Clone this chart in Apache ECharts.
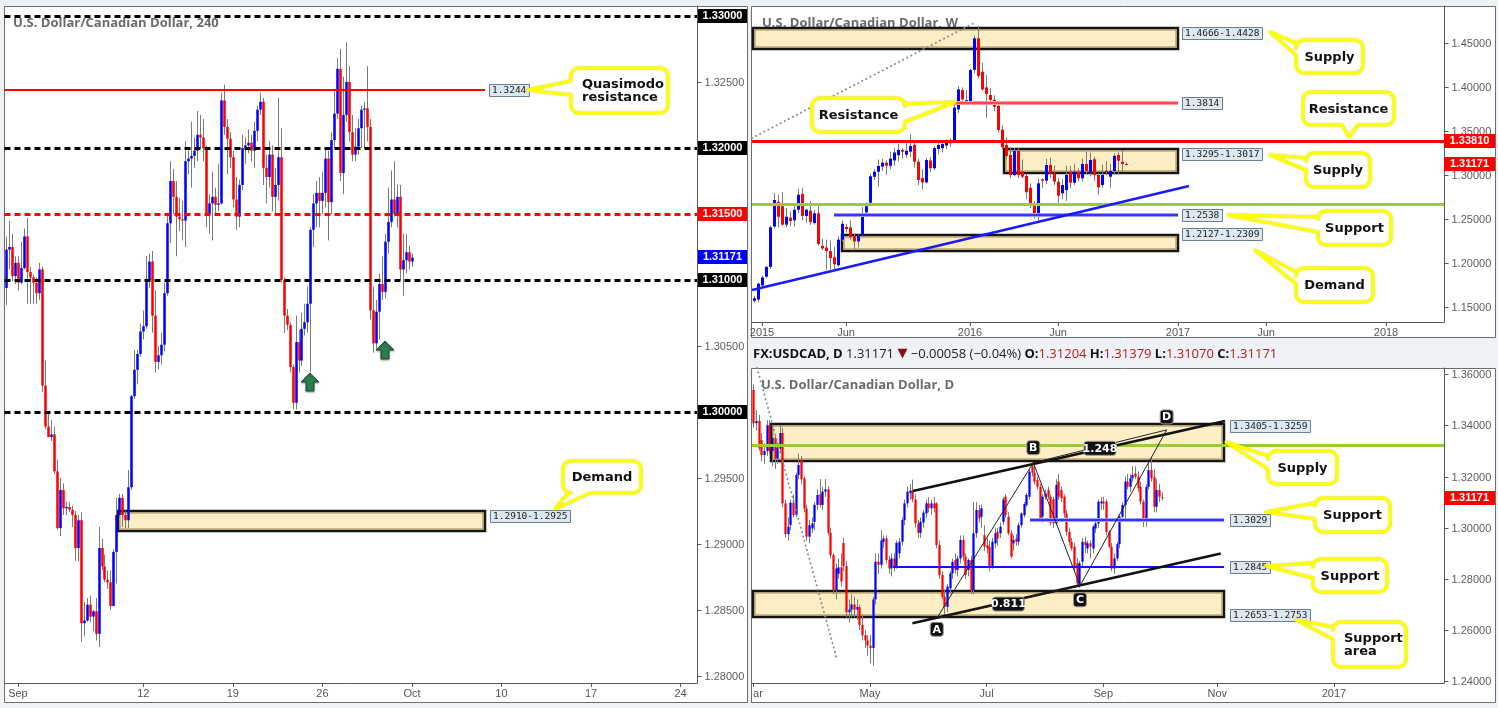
<!DOCTYPE html>
<html><head><meta charset="utf-8">
<script src="https://cdn.jsdelivr.net/npm/echarts@6/dist/echarts.min.js"></script>
<style>html,body{margin:0;padding:0;background:#eef1f5;}#c{width:1498px;height:708px;}</style>
</head><body><div id="c"></div>
<script>
// ================= DATA =================
// ---- 4H panel (Sep 1 - Oct 3, 2016) : [open, high, low, close]
const h4TickIdx = [4, 46, 76, 106, 136, 166, 196, 226];
const h4TickLab = ['Sep', '12', '19', '26', 'Oct', '10', '17', '24'];
const h4Ohlc = [
[1.3094,1.3133,1.3081,1.3123],[1.3123,1.3145,1.3108,1.3125],[1.3125,1.3135,1.3099,1.3103],[1.3103,1.3118,1.3097,1.3113],
[1.3113,1.3118,1.3092,1.3098],[1.3098,1.3129,1.3097,1.3109],[1.3109,1.3139,1.3108,1.3133],[1.3133,1.3147,1.3082,1.3106],
[1.3106,1.3110,1.3082,1.3102],[1.3102,1.3104,1.3082,1.3098],[1.3098,1.3102,1.3082,1.3090],[1.3090,1.3113,1.3085,1.3108],
[1.3108,1.3110,1.3015,1.3020],[1.3020,1.3039,1.2987,1.2989],[1.2989,1.3000,1.2981,1.2981],[1.2981,1.2994,1.2978,1.2983],
[1.2983,1.2989,1.2953,1.2955],[1.2955,1.2964,1.2911,1.2912],[1.2912,1.2950,1.2906,1.2941],[1.2941,1.2946,1.2922,1.2927],
[1.2927,1.2932,1.2922,1.2928],[1.2928,1.2932,1.2924,1.2926],[1.2926,1.2929,1.2913,1.2922],[1.2922,1.2925,1.2887,1.2897],
[1.2897,1.2922,1.2887,1.2918],[1.2918,1.2924,1.2826,1.2840],[1.2840,1.2856,1.2830,1.2842],[1.2842,1.2859,1.2841,1.2854],
[1.2854,1.2861,1.2841,1.2845],[1.2845,1.2850,1.2834,1.2849],[1.2849,1.2859,1.2827,1.2832],[1.2832,1.2913,1.2822,1.2897],
[1.2897,1.2904,1.2880,1.2883],[1.2883,1.2892,1.2871,1.2873],[1.2873,1.2880,1.2866,1.2871],[1.2871,1.2880,1.2850,1.2853],
[1.2853,1.2896,1.2853,1.2894],[1.2894,1.2935,1.2870,1.2922],[1.2922,1.2938,1.2920,1.2935],[1.2935,1.2938,1.2913,1.2922],
[1.2922,1.2925,1.2912,1.2918],[1.2918,1.2956,1.2912,1.2943],[1.2943,1.3013,1.2941,1.3012],[1.3012,1.3047,1.3010,1.3032],
[1.3032,1.3047,1.3021,1.3044],[1.3044,1.3067,1.3042,1.3061],[1.3061,1.3077,1.3055,1.3065],[1.3065,1.3118,1.3063,1.3100],
[1.3100,1.3120,1.3094,1.3114],[1.3114,1.3122,1.3060,1.3073],[1.3073,1.3092,1.3030,1.3038],[1.3038,1.3050,1.3032,1.3043],
[1.3043,1.3060,1.3036,1.3051],[1.3051,1.3098,1.3046,1.3090],[1.3090,1.3150,1.3088,1.3143],[1.3143,1.3190,1.3128,1.3175],
[1.3175,1.3184,1.3150,1.3163],[1.3163,1.3175,1.3118,1.3148],[1.3148,1.3162,1.3137,1.3146],[1.3146,1.3160,1.3130,1.3145],
[1.3145,1.3205,1.3125,1.3190],[1.3190,1.3200,1.3180,1.3192],[1.3192,1.3220,1.3170,1.3194],[1.3194,1.3208,1.3185,1.3198],
[1.3198,1.3228,1.3190,1.3210],[1.3210,1.3225,1.3200,1.3208],[1.3208,1.3222,1.3190,1.3200],[1.3200,1.3202,1.3140,1.3150],
[1.3150,1.3165,1.3135,1.3158],[1.3158,1.3182,1.3130,1.3163],[1.3163,1.3170,1.3150,1.3157],[1.3157,1.3188,1.3152,1.3158],
[1.3158,1.3242,1.3157,1.3236],[1.3236,1.3248,1.3210,1.3216],[1.3216,1.3222,1.3180,1.3207],[1.3207,1.3212,1.3185,1.3193],
[1.3193,1.3198,1.3155,1.3161],[1.3161,1.3178,1.3138,1.3148],[1.3148,1.3176,1.3140,1.3172],[1.3172,1.3210,1.3168,1.3200],
[1.3200,1.3208,1.3188,1.3202],[1.3202,1.3214,1.3196,1.3204],[1.3204,1.3210,1.3190,1.3198],[1.3198,1.3220,1.3185,1.3213],
[1.3213,1.3232,1.3205,1.3229],[1.3229,1.3242,1.3225,1.3235],[1.3235,1.3238,1.3172,1.3185],[1.3185,1.3195,1.3158,1.3178],
[1.3178,1.3205,1.3170,1.3195],[1.3195,1.3202,1.3152,1.3163],[1.3163,1.3185,1.3150,1.3172],[1.3172,1.3238,1.3160,1.3193],
[1.3193,1.3215,1.3098,1.3100],[1.3100,1.3102,1.3060,1.3073],[1.3073,1.3078,1.3062,1.3066],[1.3066,1.3068,1.3030,1.3034],
[1.3034,1.3036,1.3002,1.3007],[1.3007,1.3073,1.3002,1.3053],[1.3053,1.3062,1.3030,1.3039],[1.3039,1.3075,1.3035,1.3063],
[1.3063,1.3082,1.3058,1.3068],[1.3068,1.3095,1.3060,1.3082],[1.3082,1.3140,1.3030,1.3138],[1.3138,1.3165,1.3125,1.3158],
[1.3158,1.3175,1.3140,1.3166],[1.3166,1.3178,1.3140,1.3160],[1.3160,1.3182,1.3150,1.3166],[1.3166,1.3200,1.3155,1.3192],
[1.3192,1.3198,1.3130,1.3159],[1.3159,1.3212,1.3150,1.3206],[1.3206,1.3245,1.3200,1.3226],[1.3226,1.3268,1.3222,1.3260],
[1.3260,1.3275,1.3175,1.3181],[1.3181,1.3254,1.3165,1.3225],[1.3225,1.3280,1.3220,1.3250],[1.3250,1.3262,1.3205,1.3212],
[1.3212,1.3225,1.3190,1.3195],[1.3195,1.3215,1.3190,1.3201],[1.3201,1.3222,1.3195,1.3215],[1.3215,1.3232,1.3200,1.3229],
[1.3229,1.3235,1.3200,1.3230],[1.3230,1.3262,1.3205,1.3216],[1.3216,1.3222,1.3070,1.3077],[1.3077,1.3095,1.3045,1.3052],
[1.3052,1.3085,1.3048,1.3076],[1.3076,1.3105,1.3055,1.3097],[1.3097,1.3118,1.3085,1.3091],[1.3091,1.3135,1.3086,1.3129],
[1.3129,1.3170,1.3120,1.3144],[1.3144,1.3183,1.3140,1.3161],[1.3161,1.3190,1.3148,1.3150],[1.3150,1.3172,1.3140,1.3163],
[1.3163,1.3172,1.3100,1.3108],[1.3108,1.3135,1.3088,1.3115],[1.3115,1.3135,1.3105,1.3121],[1.3121,1.3126,1.3108,1.3114],
[1.3114,1.3120,1.3110,1.3117]
];
const h4BlackLevels = [1.33, 1.32, 1.31, 1.30];
const h4RedLevel = 1.315;
const h4Quasimodo = 1.3244;
const h4Demand = [1.2910, 1.2925];
const h4AxisTicks = [1.325, 1.305, 1.295, 1.29, 1.285, 1.28];
const lastClose = 1.31171;
const h4Arrows = [[102, 1.3030], [127, 1.30545]];

// ---- Weekly panel (Dec 2014 - Oct 2016)
const wTickIdx = [2, 23, 54, 76, 106, 128, 158];
const wTickLab = ['2015', 'Jun', '2016', 'Jun', '2017', 'Jun', '2018'];
const wOhlc = [
[1.1566,1.1620,1.1548,1.1594],[1.1580,1.1772,1.1548,1.1760],[1.1740,1.1848,1.1722,1.1830],[1.1840,1.1960,1.1820,1.1950],
[1.1950,1.2420,1.1925,1.2400],[1.2410,1.2790,1.2390,1.2710],[1.2690,1.2770,1.2400,1.2520],[1.2640,1.2800,1.2420,1.2430],
[1.2430,1.2620,1.2400,1.2520],[1.2510,1.2580,1.2410,1.2470],[1.2480,1.2650,1.2410,1.2600],[1.2600,1.2840,1.2560,1.2770],
[1.2780,1.2850,1.2480,1.2530],[1.2530,1.2610,1.2450,1.2600],[1.2590,1.2700,1.2430,1.2460],[1.2450,1.2600,1.2430,1.2560],
[1.2560,1.2650,1.2190,1.2210],[1.2190,1.2270,1.2140,1.2160],[1.2170,1.2260,1.1920,1.2130],[1.2130,1.2250,1.1920,1.2050],
[1.2060,1.2180,1.1920,1.1980],[1.1970,1.2300,1.1950,1.2260],[1.2260,1.2480,1.2240,1.2440],[1.2405,1.2440,1.2340,1.2380],
[1.2400,1.2480,1.2260,1.2290],[1.2300,1.2330,1.2140,1.2240],[1.2240,1.2320,1.2170,1.2300],[1.2310,1.2630,1.2290,1.2560],
[1.2570,1.2680,1.2550,1.2640],[1.2680,1.3010,1.2670,1.2980],[1.2975,1.3060,1.2940,1.3032],[1.3032,1.3170,1.2860,1.3097],
[1.3090,1.3180,1.3040,1.3135],[1.3135,1.3160,1.3000,1.3100],[1.3100,1.3260,1.3060,1.3180],[1.3160,1.3300,1.3100,1.3250],
[1.3220,1.3350,1.3150,1.3280],[1.3280,1.3300,1.3180,1.3260],[1.3225,1.3360,1.3190,1.3270],[1.3260,1.3460,1.3200,1.3324],
[1.3336,1.3370,1.3080,1.3146],[1.3146,1.3180,1.2880,1.2938],[1.2960,1.3060,1.2830,1.2910],[1.2910,1.3190,1.2900,1.3165],
[1.3160,1.3200,1.3030,1.3071],[1.3071,1.3320,1.3050,1.3301],[1.3290,1.3370,1.3230,1.3336],[1.3300,1.3390,1.3250,1.3347],
[1.3330,1.3400,1.3290,1.3373],[1.3370,1.3410,1.3310,1.3355],[1.3373,1.3790,1.3360,1.3760],[1.3740,1.4005,1.3700,1.3968],
[1.3960,1.3990,1.3840,1.3853],[1.3825,1.3960,1.3800,1.3845],[1.3820,1.4200,1.3800,1.4188],[1.4190,1.4580,1.4150,1.4548],
[1.4548,1.4690,1.4090,1.4120],[1.4169,1.4270,1.3950,1.3968],[1.3990,1.4130,1.3646,1.3915],[1.3904,1.3980,1.3800,1.3847],
[1.3850,1.3900,1.3720,1.3771],[1.3780,1.3800,1.3480,1.3506],[1.3510,1.3560,1.3280,1.3309],[1.3336,1.3420,1.3180,1.3211],
[1.3222,1.3310,1.2960,1.2995],[1.2995,1.3300,1.2980,1.3267],[1.3267,1.3300,1.2960,1.2995],[1.3032,1.3170,1.2960,1.2975],
[1.2983,1.3010,1.2720,1.2800],[1.2850,1.2900,1.2620,1.2654],[1.2654,1.2700,1.2500,1.2529],[1.2529,1.2950,1.2461,1.2900],
[1.2946,1.2960,1.2850,1.2930],[1.2930,1.3180,1.2890,1.3108],[1.3108,1.3190,1.2960,1.3014],[1.3014,1.3100,1.2880,1.2919],
[1.2919,1.2960,1.2650,1.2760],[1.2787,1.2950,1.2720,1.2881],[1.2824,1.3100,1.2700,1.2995],[1.3032,1.3100,1.2850,1.2907],
[1.2907,1.3120,1.2880,1.3032],[1.3032,1.3070,1.2920,1.2957],[1.2957,1.3180,1.2920,1.3120],[1.3120,1.3260,1.3000,1.3040],
[1.3021,1.3250,1.2980,1.3165],[1.3173,1.3200,1.2930,1.2995],[1.2995,1.3020,1.2770,1.2855],[1.2881,1.3110,1.2850,1.2995],
[1.3040,1.3150,1.2990,1.3030],[1.2975,1.3120,1.2850,1.3040],[1.3040,1.3240,1.3000,1.3211],[1.3222,1.3250,1.3000,1.3157],
[1.3146,1.3275,1.3040,1.3120],[1.3120,1.3138,1.3107,1.3117]
];
const wSupplyTop = [1.4428, 1.4666];
const wSupplyMid = [1.3017, 1.3295];
const wDemand = [1.2127, 1.2309];
const wRes1 = 1.3814;
const wRes2 = 1.3381;
const wGreen = 1.2665;
const wSupport = 1.2538;
const wTrend = [[-0.5, 1.1688], [108.75, 1.2870]];
const wDotted = [[-0.5, 1.3415], [55.5, 1.4733]];
const wAxisTicks = [1.45, 1.40, 1.35, 1.30, 1.25, 1.20, 1.15];

// ---- Daily panel (Mar 1 - Oct 3, 2016)
const dTickIdx = [0, 44, 88, 132, 175, 219];
const dTickLab = ['Mar', 'May', 'Jul', 'Sep', 'Nov', '2017'];
const dOhlc = [
[1.3538,1.3560,1.3390,1.3408],[1.3408,1.3460,1.3380,1.3417],[1.3417,1.3440,1.3300,1.3310],[1.3342,1.3370,1.3260,1.3284],
[1.3284,1.3330,1.3250,1.3300],[1.3300,1.3420,1.3280,1.3400],[1.3400,1.3420,1.3290,1.3300],[1.3300,1.3400,1.3240,1.3350],
[1.3350,1.3360,1.3230,1.3270],[1.3270,1.3320,1.3250,1.3310],[1.3310,1.3400,1.3290,1.3370],[1.3370,1.3390,1.3080,1.3095],
[1.3095,1.3110,1.2960,1.2975],[1.2975,1.3040,1.2950,1.3004],[1.3010,1.3110,1.2990,1.3098],[1.3098,1.3130,1.3040,1.3050],
[1.3050,1.3215,1.3040,1.3206],[1.3206,1.3290,1.3190,1.3245],[1.3264,1.3280,1.3170,1.3189],[1.3193,1.3200,1.3060,1.3075],
[1.3075,1.3090,1.2950,1.2965],[1.2965,1.3030,1.2940,1.3010],[1.2997,1.3040,1.2980,1.3017],[1.3023,1.3100,1.2990,1.3089],
[1.3089,1.3150,1.3070,1.3128],[1.3131,1.3190,1.3080,1.3089],[1.3089,1.3160,1.3070,1.3141],[1.3141,1.3190,1.3120,1.3150],
[1.3150,1.3160,1.2970,1.2980],[1.2980,1.3000,1.2880,1.2893],[1.2893,1.2900,1.2740,1.2757],[1.2757,1.2860,1.2720,1.2841],
[1.2820,1.2880,1.2800,1.2845],[1.2845,1.2900,1.2770,1.2790],[1.2940,1.2960,1.2830,1.2850],[1.2850,1.2870,1.2650,1.2670],
[1.2670,1.2720,1.2630,1.2680],[1.2680,1.2740,1.2650,1.2700],[1.2700,1.2730,1.2650,1.2680],[1.2680,1.2720,1.2640,1.2690],
[1.2690,1.2700,1.2600,1.2620],[1.2620,1.2660,1.2560,1.2580],[1.2580,1.2600,1.2530,1.2560],[1.2560,1.2580,1.2500,1.2540],
[1.2540,1.2580,1.2470,1.2530],[1.2530,1.2730,1.2461,1.2720],[1.2720,1.2900,1.2700,1.2867],[1.2867,1.2900,1.2820,1.2855],
[1.2855,1.2990,1.2840,1.2950],[1.2945,1.2970,1.2920,1.2958],[1.2958,1.2970,1.2860,1.2874],[1.2874,1.2890,1.2820,1.2841],
[1.2841,1.2900,1.2810,1.2880],[1.2880,1.2900,1.2830,1.2845],[1.2850,1.2950,1.2840,1.2941],[1.2900,1.2960,1.2880,1.2945],
[1.2945,1.3040,1.2930,1.3030],[1.3030,1.3110,1.3010,1.3095],[1.3095,1.3160,1.3080,1.3141],[1.3135,1.3170,1.3110,1.3145],
[1.3145,1.3188,1.3100,1.3111],[1.3111,1.3130,1.3000,1.3017],[1.3017,1.3030,1.2960,1.2980],[1.2980,1.3040,1.2960,1.3023],
[1.3020,1.3070,1.3000,1.3059],[1.3056,1.3110,1.3040,1.3095],[1.3095,1.3120,1.3060,1.3076],[1.3076,1.3110,1.3050,1.3095],
[1.3095,1.3120,1.3060,1.3076],[1.3095,1.3100,1.2920,1.2932],[1.2932,1.2950,1.2800,1.2815],[1.2815,1.2830,1.2720,1.2730],
[1.2730,1.2760,1.2650,1.2691],[1.2691,1.2780,1.2670,1.2770],[1.2763,1.2830,1.2740,1.2822],[1.2822,1.2880,1.2800,1.2867],
[1.2874,1.2900,1.2820,1.2835],[1.2835,1.2890,1.2810,1.2880],[1.2880,1.2970,1.2860,1.2952],[1.2952,1.2970,1.2870,1.2887],
[1.2887,1.2900,1.2800,1.2815],[1.2835,1.2880,1.2810,1.2874],[1.2874,1.2890,1.2740,1.2757],[1.2757,1.3100,1.2740,1.2978],
[1.2978,1.3100,1.2960,1.3069],[1.3069,1.3090,1.3020,1.3036],[1.3043,1.3090,1.3000,1.3076],[1.2971,1.3010,1.2910,1.2926],
[1.2932,1.2960,1.2900,1.2920],[1.2926,1.2950,1.2830,1.2848],[1.2848,1.2960,1.2840,1.2945],[1.2939,1.3000,1.2920,1.2978],
[1.2984,1.3000,1.2930,1.2958],[1.2978,1.3020,1.2960,1.3004],[1.3023,1.3120,1.3010,1.3110],[1.3121,1.3130,1.3040,1.3049],
[1.3043,1.3060,1.2970,1.2978],[1.2978,1.2990,1.2880,1.2887],[1.2939,1.2970,1.2910,1.2952],[1.2958,1.2975,1.2930,1.2945],
[1.2945,1.3020,1.2930,1.3010],[1.3010,1.3060,1.3000,1.3056],[1.3049,1.3100,1.3040,1.3092],[1.3089,1.3135,1.3080,1.3128],
[1.3121,1.3230,1.3110,1.3219],[1.3240,1.3258,1.3200,1.3215],[1.3215,1.3240,1.3170,1.3180],[1.3186,1.3200,1.3150,1.3160],
[1.3160,1.3170,1.3030,1.3036],[1.3043,1.3130,1.3020,1.3121],[1.3121,1.3150,1.3110,1.3134],[1.3147,1.3160,1.3110,1.3121],
[1.3121,1.3130,1.3010,1.3020],[1.3111,1.3120,1.3000,1.3017],[1.3017,1.3190,1.3010,1.3167],[1.3180,1.3210,1.3110,1.3121],
[1.3147,1.3160,1.3100,1.3115],[1.3121,1.3130,1.3040,1.3056],[1.3056,1.3070,1.2970,1.2984],[1.2984,1.3000,1.2930,1.2945],
[1.2945,1.2960,1.2910,1.2919],[1.2926,1.2940,1.2830,1.2848],[1.2861,1.2880,1.2770,1.2783],[1.2776,1.2870,1.2765,1.2861],
[1.2867,1.2960,1.2850,1.2945],[1.2945,1.2965,1.2900,1.2932],[1.2919,1.2950,1.2900,1.2939],[1.2939,1.2950,1.2880,1.2926],
[1.2919,1.3010,1.2900,1.3004],[1.2997,1.3030,1.2980,1.3017],[1.3017,1.3110,1.3000,1.3102],[1.3095,1.3120,1.3070,1.3102],
[1.3102,1.3120,1.3070,1.3095],[1.3102,1.3110,1.2970,1.2984],[1.2984,1.2990,1.2920,1.2926],[1.2926,1.2940,1.2830,1.2841],
[1.2841,1.2900,1.2820,1.2880],[1.2880,1.2945,1.2870,1.2936],[1.2936,1.3050,1.2920,1.3043],[1.3043,1.3100,1.3030,1.3089],
[1.3089,1.3200,1.3030,1.3180],[1.3180,1.3210,1.3150,1.3160],[1.3160,1.3210,1.3140,1.3193],[1.3193,1.3240,1.3180,1.3206],
[1.3212,1.3240,1.3190,1.3199],[1.3199,1.3220,1.3140,1.3154],[1.3160,1.3180,1.3090,1.3102],[1.3102,1.3110,1.3003,1.3036],
[1.3036,1.3170,1.3003,1.3160],[1.3160,1.3250,1.3150,1.3225],[1.3225,1.3275,1.3180,1.3193],[1.3197,1.3230,1.3060,1.3082],
[1.3082,1.3190,1.3060,1.3147],[1.3147,1.3170,1.3100,1.3121],[1.3120,1.3138,1.3107,1.3117]
];
const dSupply = [1.3259, 1.3405];
const dSupportArea = [1.2653, 1.2753];
const dSupport1 = 1.3029;
const dSupport2 = 1.2845;
const dGreen = 1.3322;
const dUpper = [[60.2, 1.3143], [177.9, 1.3417]];
const dLower = [[60.0, 1.2627], [176.3, 1.2899]];
const dPointNames = ['A', 'B', 'C', 'D'];
const dPoints = [[69.2, 1.2646], [105.6, 1.3254], [123.2, 1.2773], [155.9, 1.3382]];
const dRatios = ['1.248', '0.811'];
const dDotted = [[1.4, 1.3624], [31.6, 1.2483]];
const dAxisTicks = [1.36, 1.34, 1.32, 1.30, 1.28, 1.26, 1.24];
const dHeader = {sym: 'FX:USDCAD, D', last: '1.31171', chg: '\u22120.00058 (\u22120.04%)', o: '1.31204', h: '1.31379', l: '1.31070', c: '1.31171'};

// ================= CHART =================
const chart = echarts.init(document.getElementById('c'), null, {width: 1498, height: 708});
const BG = '#eef1f5', UP = '#0000ff', DN = '#ff0000', WICK = '#7a7a7a', AX = '#585858';
const N4 = 232, NW = 173, ND = 261;

function candleRender(ratio) {
  return function (params, api) {
    const i = api.value(0), o = api.value(1), h = api.value(2), l = api.value(3), c = api.value(4);
    const po = api.coord([i, o]), pc = api.coord([i, c]), ph = api.coord([i, h]), pl = api.coord([i, l]);
    const band = api.size([1, 0])[0];
    const bw = band * ratio;
    const xc = Math.round(po[0]) + 0.5;
    let y1 = Math.min(po[1], pc[1]), y2 = Math.max(po[1], pc[1]);
    if (y2 - y1 < 1) y2 = y1 + 1;
    return {type: 'group', children: [
      {type: 'line', shape: {x1: xc, y1: ph[1], x2: xc, y2: pl[1]}, style: {stroke: WICK, lineWidth: 1}},
      {type: 'rect', shape: {x: xc - bw / 2, y: y1, width: bw, height: y2 - y1}, style: {fill: c >= o ? UP : DN}}
    ]};
  };
}
function candleSeries(gi, rows, ratio) {
  return {type: 'custom', xAxisIndex: gi, yAxisIndex: gi, z: 3, clip: true, silent: true,
    data: rows.map((r, i) => [i, r[0], r[1], r[2], r[3]]), encode: {x: 0, y: [1, 2, 3, 4]},
    renderItem: candleRender(ratio)};
}
function xCfg(gi, n, idx, lab) {
  const m = {}; idx.forEach((t, j) => m[t] = lab[j]);
  return {type: 'category', gridIndex: gi, data: Array.from({length: n}, (_, i) => String(i)), boundaryGap: true,
    axisLine: {show: true, lineStyle: {color: AX, width: 1}},
    axisTick: {show: true, alignWithLabel: true, interval: (i) => (i in m), length: 4, lineStyle: {color: AX}},
    axisLabel: {show: true, interval: (i) => (i in m), formatter: (v, i) => m[i] || '', color: '#555', fontSize: 11, fontFamily: 'Liberation Sans', margin: 5},
    splitLine: {show: false}};
}
function yCfg(gi, min, max) {
  return {type: 'value', gridIndex: gi, position: 'right', min: min, max: max, scale: true,
    axisLine: {show: true, lineStyle: {color: AX, width: 1}}, axisTick: {show: false}, axisLabel: {show: false}, splitLine: {show: false}};
}

chart.setOption({
  animation: false, backgroundColor: BG,
  grid: [
    {left: 4.5, top: 6, width: 692.5, height: 677},
    {left: 752, top: 6, width: 692, height: 316},
    {left: 752, top: 368, width: 692, height: 315}
  ],
  xAxis: [xCfg(0, N4, h4TickIdx, h4TickLab), xCfg(1, NW, wTickIdx, wTickLab), xCfg(2, ND, dTickIdx, dTickLab)],
  yAxis: [yCfg(0, 1.27947, 1.330758), yCfg(1, 1.132418, 1.491509), yCfg(2, 1.239336, 1.362383)],
  series: [candleSeries(0, h4Ohlc, 0.85), candleSeries(1, wOhlc, 0.75), candleSeries(2, dOhlc, 0.85)]
});

// ---------- annotation helpers ----------
function yp(g, v) { return chart.convertToPixel({yAxisIndex: g}, v); }
function xp(g, v) {
  const a = chart.convertToPixel({xAxisIndex: g}, '0'), b = chart.convertToPixel({xAxisIndex: g}, '1');
  return a + v * (b - a);
}
const NS = [N4, NW, ND];
function xL(g) { return xp(g, -0.5); }
function xR(g) { return xp(g, NS[g] - 0.5); }
const els = [];
const crisp = (v) => Math.round(v) + 0.5;

function hLine(g, v, x1, x2, color, lw, dash, z) {
  const y = lw % 2 === 1 ? crisp(yp(g, v)) : Math.round(yp(g, v));
  els.push({type: 'line', silent: true, z: z || 5, shape: {x1: x1, y1: y, x2: x2, y2: y},
    style: {stroke: color, lineWidth: lw, lineDash: dash || null}});
}
function segLine(g, p1, p2, color, lw, dash, z) {
  els.push({type: 'line', silent: true, z: z || 5,
    shape: {x1: xp(g, p1[0]), y1: yp(g, p1[1]), x2: xp(g, p2[0]), y2: yp(g, p2[1])},
    style: {stroke: color, lineWidth: lw, lineDash: dash || null, lineCap: dash ? 'round' : 'butt'}});
}
function zone(g, lo, hi, x1, x2) {
  const yT = Math.round(yp(g, hi)), yB = Math.round(yp(g, lo));
  els.push({type: 'rect', silent: true, z: 1, shape: {x: x1, y: yT, width: x2 - x1, height: yB - yT},
    style: {fill: '#fdeec4', stroke: '#151515', lineWidth: 2.5}});
  els.push({type: 'rect', silent: true, z: 1, shape: {x: x1 + 2, y: yT + 2, width: x2 - x1 - 4, height: yB - yT - 4},
    style: {fill: null, stroke: '#9b8550', lineWidth: 1}});
}
function valBox(x, yc, text) {
  const w = text.length * 5.75 + 5, h = 12;
  els.push({type: 'rect', silent: true, z: 8, shape: {x: Math.round(x) + 0.5, y: Math.round(yc - h / 2) + 0.5, width: Math.round(w), height: h},
    style: {fill: '#dde8f1', stroke: '#667f91', lineWidth: 1}});
  els.push({type: 'text', silent: true, z: 9, style: {text: text, x: Math.round(x) + 3, y: Math.round(yc) + 1, fill: '#1b1b1b',
    font: '9.5px "DejaVu Sans Mono"', align: 'left', verticalAlign: 'middle'}});
}
function priceBox(x, w, yc, text, bg) {
  els.push({type: 'rect', silent: true, z: 9, shape: {x: x, y: Math.round(yc) - 7, width: w, height: 14}, style: {fill: bg}});
  els.push({type: 'text', silent: true, z: 10, style: {text: text, x: x + w / 2, y: Math.round(yc), fill: '#fff',
    font: 'bold 11px "Liberation Sans"', align: 'center', verticalAlign: 'middle'}});
}
function tickLabel(g, xAxisPx, v) {
  const y = crisp(yp(g, v));
  els.push({type: 'line', silent: true, z: 6, shape: {x1: xAxisPx, y1: y, x2: xAxisPx + 4, y2: y}, style: {stroke: AX, lineWidth: 1}});
  els.push({type: 'text', silent: true, z: 6, style: {text: v.toFixed(5), x: xAxisPx + 7, y: y, fill: '#5c5c5c',
    font: '11px "Liberation Sans"', align: 'left', verticalAlign: 'middle'}});
}
function arcPts(cx, cy, r, a0, a1, pts) {
  for (let k = 0; k <= 6; k++) {
    const a = (a0 + (a1 - a0) * k / 6) * Math.PI / 180;
    pts.push([cx + r * Math.cos(a), cy + r * Math.sin(a)]);
  }
}
function bubble(x, y, w, h, side, s1, s2, tip, lines, leftAlign) {
  const r = 8, X2 = x + w, Y2 = y + h, pts = [];
  pts.push([x + r, y]);
  if (side === 'top') { pts.push([s1, y], tip, [s2, y]); }
  arcPts(X2 - r, y + r, r, -90, 0, pts);
  if (side === 'right') { pts.push([X2, s1], tip, [X2, s2]); }
  arcPts(X2 - r, Y2 - r, r, 0, 90, pts);
  if (side === 'bottom') { pts.push([s2, Y2], tip, [s1, Y2]); }
  arcPts(x + r, Y2 - r, r, 90, 180, pts);
  if (side === 'left') { pts.push([x, s2], tip, [x, s1]); }
  arcPts(x + r, y + r, r, 180, 270, pts);
  els.push({type: 'polygon', silent: true, z: 20, shape: {points: pts},
    style: {fill: '#ffffff', stroke: '#ffff00', lineWidth: 3, lineJoin: 'round', shadowBlur: 2, shadowColor: 'rgba(190,190,0,0.7)'}});
  els.push({type: 'text', silent: true, z: 21, style: {text: lines.join('\n'),
    x: leftAlign ? x + 11 : x + w / 2, y: y + h / 2 + 1, fill: '#111', font: 'bold 13px "DejaVu Sans"', lineHeight: 13,
    align: leftAlign ? 'left' : 'center', verticalAlign: 'middle'}});
}
function tag(cx, cy, text, w) {
  els.push({type: 'rect', silent: true, z: 12, shape: {x: cx - w / 2, y: cy - 7, width: w, height: 14, r: 3},
    style: {fill: '#111', stroke: '#9a9a9a', lineWidth: 1}});
  els.push({type: 'text', silent: true, z: 13, style: {text: text, x: cx, y: cy + 0.5, fill: '#fff', font: 'bold 11px "DejaVu Sans"', align: 'center', verticalAlign: 'middle'}});
}
function upArrow(cx, ty) {
  const pts = [[cx, ty], [cx + 9, ty + 9], [cx + 4, ty + 9], [cx + 4, ty + 18], [cx - 4, ty + 18], [cx - 4, ty + 9], [cx - 9, ty + 9]];
  els.push({type: 'polygon', silent: true, z: 12, shape: {points: pts}, style: {fill: '#2e7d50', stroke: '#1c5535', lineWidth: 1, shadowBlur: 2, shadowColor: 'rgba(0,0,0,0.35)', shadowOffsetY: 1}});
}
function title(x, y, text) {
  els.push({type: 'text', silent: true, z: 0.5, style: {text: text, x: x, y: y, fill: '#6b6b6b', font: 'bold 13px "Open Sans"', align: 'left', verticalAlign: 'middle'}});
}

// ---------- panel frames ----------
els.push({type: 'rect', silent: true, z: -10, shape: {x: 4.5, y: 6.5, width: 743, height: 696}, style: {fill: '#fff', stroke: '#6e6e6e', lineWidth: 1}});
els.push({type: 'rect', silent: true, z: -10, shape: {x: 751.5, y: 6.5, width: 744, height: 331}, style: {fill: '#fff', stroke: '#6e6e6e', lineWidth: 1}});
els.push({type: 'rect', silent: true, z: -10, shape: {x: 751.5, y: 368.5, width: 744, height: 334}, style: {fill: '#fff', stroke: '#6e6e6e', lineWidth: 1}});

// ================= 4H PANEL =================
title(13, 23, 'U.S. Dollar/Canadian Dollar, 240');
{
  const L = xL(0), R = xR(0);
  const zX1 = xp(0, 37.5), zX2 = xp(0, 160.5);
  zone(0, h4Demand[0], h4Demand[1], Math.round(zX1), Math.round(zX2));
  h4BlackLevels.forEach(v => hLine(0, v, L, R, '#000', 3, [6, 4], 5));
  hLine(0, h4RedLevel, L, R, '#ff0000', 3, [6, 4], 5);
  hLine(0, h4Quasimodo, L, Math.round(xp(0, 160.5)), '#ff0000', 2, null, 5);
  valBox(xp(0, 161.8), yp(0, h4Quasimodo), h4Quasimodo.toFixed(4));
  valBox(xp(0, 162.1), yp(0, h4Demand[1]) + 5, h4Demand[0].toFixed(4) + '-' + h4Demand[1].toFixed(4));
  h4Arrows.forEach(a => upArrow(Math.round(xp(0, a[0])), Math.round(yp(0, a[1])) + 1));
  bubble(571, 68, 97, 45, 'left', 81, 95, [528, 90], ['Quasimodo', 'resistance'], true);
  bubble(563, 461, 78, 32, 'bottom', 568, 590, [555, 509], ['Demand']);
  const ax = Math.round(R) + 0.5;
  h4AxisTicks.forEach(v => tickLabel(0, ax, v));
  h4BlackLevels.forEach(v => priceBox(698, 49, yp(0, v), v.toFixed(5), '#000'));
  priceBox(698, 49, yp(0, h4RedLevel), h4RedLevel.toFixed(5), '#ff0000');
  priceBox(698, 49, yp(0, lastClose), lastClose.toFixed(5), '#0000ff');
}

// ================= WEEKLY PANEL =================
title(762, 23, 'U.S. Dollar/Canadian Dollar, W');
{
  const L = xL(1), R = xR(1), zR = Math.round(xp(1, 106));
  zone(1, wSupplyTop[0], wSupplyTop[1], Math.round(L) + 1, zR);
  zone(1, wSupplyMid[0], wSupplyMid[1], Math.round(xp(1, 62.4)), zR);
  zone(1, wDemand[0], wDemand[1], Math.round(xp(1, 22)), zR);
  segLine(1, wDotted[0], wDotted[1], '#8a8a8a', 2, [0.1, 4.5], 4);
  hLine(1, wRes1, Math.round(xp(1, 50)), zR, '#ff9a9a', 4, null, 4);
  hLine(1, wRes1, Math.round(xp(1, 50)), zR, '#ff3030', 1.5, null, 4);
  hLine(1, wRes2, L, R, '#ff0000', 3, null, 5);
  hLine(1, wGreen, L, R, '#9acd32', 3, null, 5);
  hLine(1, wSupport, Math.round(xp(1, 20)), zR, '#9a9aff', 4, null, 4);
  hLine(1, wSupport, Math.round(xp(1, 20)), zR, '#1515ff', 1.5, null, 4);
  segLine(1, wTrend[0], wTrend[1], '#1a1aff', 2.5, null, 5);
  valBox(zR + 4, yp(1, wSupplyTop[1]) + 5, wSupplyTop[1].toFixed(4) + '-' + wSupplyTop[0].toFixed(4));
  valBox(zR + 4, yp(1, wRes1), wRes1.toFixed(4));
  valBox(zR + 4, yp(1, wSupplyMid[1]) + 5, wSupplyMid[1].toFixed(4) + '-' + wSupplyMid[0].toFixed(4));
  valBox(zR + 4, yp(1, wSupport), wSupport.toFixed(4));
  valBox(zR + 4, yp(1, wDemand[1]) - 1, wDemand[0].toFixed(4) + '-' + wDemand[1].toFixed(4));
  bubble(812, 98, 93, 34, 'right', 104, 122, [955, 102], ['Resistance']);
  bubble(1296, 40, 67, 33, 'left', 43, 55, [1270, 32], ['Supply']);
  bubble(1303, 92, 91, 33, 'bottom', 1342, 1358, [1349, 137], ['Resistance']);
  bubble(1306, 153, 64, 34, 'left', 158, 170, [1270, 155], ['Supply']);
  bubble(1318, 211, 73, 34, 'left', 217, 232, [1228, 215], ['Support']);
  bubble(1296, 268, 77, 34, 'left', 272, 284, [1255, 250], ['Demand']);
  const ax = Math.round(R) + 0.5;
  wAxisTicks.forEach(v => tickLabel(1, ax, v));
  priceBox(1444, 51, yp(1, wRes2), wRes2.toFixed(5), '#ff0000');
  priceBox(1444, 51, yp(1, lastClose), lastClose.toFixed(5), '#ff0000');
}

// ================= DAILY PANEL =================
title(761, 385, 'U.S. Dollar/Canadian Dollar, D');
{
  const L = xL(2), R = xR(2), zR = Math.round(xp(2, 177.5));
  zone(2, dSupply[0], dSupply[1], Math.round(xp(2, 6.7)), zR);
  zone(2, dSupportArea[0], dSupportArea[1], Math.round(L) + 1, zR);
  hLine(2, dGreen, L, R, '#9acd32', 3, null, 5);
  hLine(2, dSupport1, Math.round(xp(2, 104.4)), zR, '#a0a0ff', 4, null, 4);
  hLine(2, dSupport1, Math.round(xp(2, 104.4)), zR, '#1010ff', 1.5, null, 4);
  hLine(2, dSupport2, Math.round(xp(2, 52.6)), zR, '#1010ff', 2, null, 4);
  segLine(2, dDotted[0], dDotted[1], '#8a8a8a', 2, [0.1, 4.5], 4);
  segLine(2, dUpper[0], dUpper[1], '#111', 2.5, null, 6);
  segLine(2, dLower[0], dLower[1], '#111', 2.5, null, 6);
  const P = dPoints;
  segLine(2, P[0], P[1], '#222', 1, null, 6);
  segLine(2, P[1], P[2], '#222', 1, null, 6);
  segLine(2, P[2], P[3], '#222', 1, null, 6);
  segLine(2, P[1], P[3], '#222', 1, null, 6);
  segLine(2, P[0], P[2], '#222', 1, null, 6);
  const mid = (a, b) => [(xp(2, a[0]) + xp(2, b[0])) / 2, (yp(2, a[1]) + yp(2, b[1])) / 2];
  const m1 = mid(P[1], P[3]), m2 = mid(P[0], P[2]);
  tag(m1[0], m1[1] + 2, dRatios[0], 32);
  tag(m2[0], m2[1] + 2, dRatios[1], 32);
  const offs = [11, -15, 14, -13];
  P.forEach((p, j) => tag(xp(2, p[0]), yp(2, p[1]) + offs[j], dPointNames[j], 13));
  valBox(zR + 6, yp(2, dSupply[1]) + 2, dSupply[1].toFixed(4) + '-' + dSupply[0].toFixed(4));
  valBox(zR + 6, yp(2, dSupport1), dSupport1.toFixed(4));
  valBox(zR + 6, yp(2, dSupport2), dSupport2.toFixed(4));
  valBox(zR + 6, yp(2, dSupportArea[0]) - 2, dSupportArea[0].toFixed(4) + '-' + dSupportArea[1].toFixed(4));
  bubble(1268, 451, 69, 33, 'left', 456, 469, [1226, 442], ['Supply']);
  bubble(1315, 498, 75, 34, 'left', 503, 519, [1266, 512], ['Support']);
  bubble(1313, 559, 74, 33, 'left', 563, 578, [1266, 566], ['Support']);
  bubble(1333, 622, 73, 45, 'left', 627, 639, [1296, 620], ['Support', 'area'], true);
  const ax = Math.round(R) + 0.5;
  dAxisTicks.forEach(v => tickLabel(2, ax, v));
  priceBox(1444, 51, yp(2, lastClose), lastClose.toFixed(5), '#ff0000');
  els.push({type: 'text', silent: true, z: 10, style: {x: 753, y: 354, verticalAlign: 'middle', align: 'left',
    text: '{b|' + dHeader.sym + '} {n|' + dHeader.last + '} {d|\u25BC} {n|' + dHeader.chg + '} {b|O:}{r|' + dHeader.o + '} {b|H:}{r|' + dHeader.h + '} {b|L:}{r|' + dHeader.l + '} {b|C:}{r|' + dHeader.c + '}',
    rich: {
      b: {fontWeight: 'bold', fontSize: 13, fontFamily: 'Open Sans', fill: '#111'},
      n: {fontSize: 13, fontFamily: 'Open Sans', fill: '#222'},
      r: {fontSize: 13, fontFamily: 'Open Sans', fill: '#b01e1e'},
      d: {fontSize: 13, fontFamily: 'DejaVu Sans', fill: '#8b1010'}
    }}});
}
// cover for the clipped daily "Mar" label
els.push({type: 'rect', silent: true, z: 30, shape: {x: 735, y: 684, width: 12.5, height: 18}, style: {fill: '#fff'}});
els.push({type: 'rect', silent: true, z: 30, shape: {x: 748, y: 684, width: 3, height: 19}, style: {fill: BG}});
els.push({type: 'line', silent: true, z: 31, shape: {x1: 747.5, y1: 684, x2: 747.5, y2: 703}, style: {stroke: '#6e6e6e', lineWidth: 1}});
els.push({type: 'line', silent: true, z: 31, shape: {x1: 751.5, y1: 684, x2: 751.5, y2: 703}, style: {stroke: '#6e6e6e', lineWidth: 1}});

chart.setOption({graphic: els});
</script></body></html>
